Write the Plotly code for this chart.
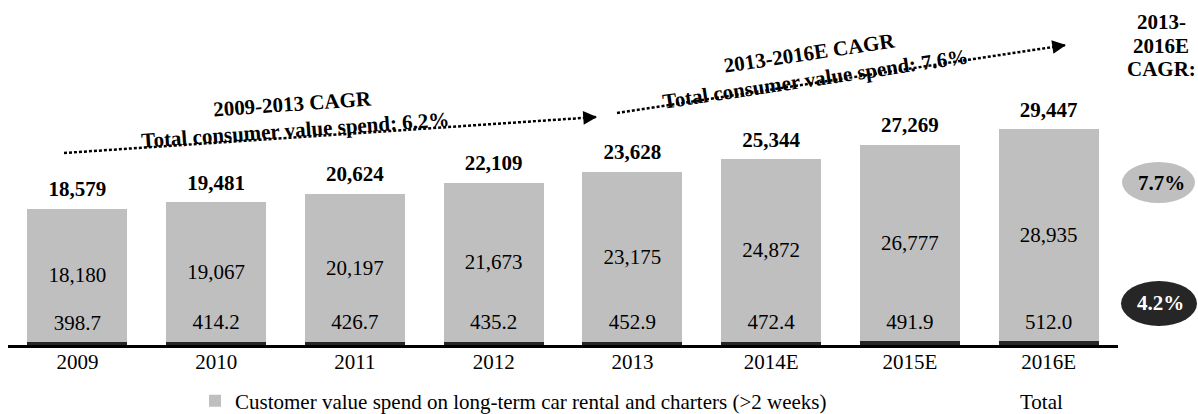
import plotly.graph_objects as go

# ---- data ----
categories = ["2009", "2010", "2011", "2012", "2013", "2014E", "2015E", "2016E"]
long_term_spend = [18180, 19067, 20197, 21673, 23175, 24872, 26777, 28935]
other_spend = [398.7, 414.2, 426.7, 435.2, 452.9, 472.4, 491.9, 512.0]
totals = [18579, 19481, 20624, 22109, 23628, 25344, 27269, 29447]
legend_long = "Customer value spend on long-term car rental and charters (>2 weeks)"
legend_total = "Total"
cagr_hist = ["2009-2013 CAGR", "Total consumer value spend: 6.2%"]
cagr_fcst = ["2013-2016E CAGR", "Total consumer value spend: 7.6%"]
side_header = ["2013-", "2016E", "CAGR:"]
side_cagr_long = "7.7%"
side_cagr_other = "4.2%"

FONT = "Liberation Serif"
GREY = "#BFBFBF"
DARK = "#262626"
W, H = 1198, 414
ML, MR, MT, MB = 8, 80, 0, 69
PW, PH = W - ML - MR, H - MT - MB


def px(x):
    return (x - ML) / PW


def py(y):
    return (H - MB - y) / PH


fig = go.Figure()
fig.add_trace(go.Bar(
    x=categories, y=other_spend, width=0.72,
    marker=dict(color=DARK, line=dict(width=0)),
    showlegend=False, name="other", hoverinfo="skip",
))
fig.add_trace(go.Bar(
    x=categories, y=long_term_spend, width=0.72,
    marker=dict(color=GREY, line=dict(width=0)),
    name=legend_long, texttemplate="%{y:,.0f}", textposition="inside",
    insidetextanchor="middle", textangle=0,
    textfont=dict(family=FONT, size=21, color="black"),
    legend="legend", hoverinfo="skip",
))
# labels of the thin bottom segment
fig.add_trace(go.Scatter(
    x=categories, y=other_spend, mode="markers+text",
    marker=dict(size=10, color="rgba(0,0,0,0)", opacity=0),
    texttemplate="%{y:.1f}",
    textposition="top center", textfont=dict(family=FONT, size=21, color="black"),
    showlegend=False, hoverinfo="skip",
))
# total labels
fig.add_trace(go.Scatter(
    x=categories, y=totals, mode="markers+text",
    marker=dict(size=10, color="rgba(0,0,0,0)", opacity=0),
    texttemplate="%{y:,.0f}",
    textposition="top center",
    textfont=dict(family=FONT, size=21, color="black", weight="bold"),
    showlegend=False, hoverinfo="skip",
))
# legend entry for Total (no visible symbol)
fig.add_trace(go.Scatter(
    x=categories, y=totals, mode="markers",
    marker=dict(size=12, color="rgba(0,0,0,0)", opacity=0, line=dict(width=0)),
    name=legend_total, legend="legend2", hoverinfo="skip",
))

shapes = []
annotations = []


def dotted_arrow(x0, y0, x1, y1):
    shapes.append(dict(type="line", xref="paper", yref="paper",
                       x0=px(x0), y0=py(y0), x1=px(x1), y1=py(y1),
                       line=dict(color="black", width=2.5, dash="3px,2px")))
    dx, dy = x1 - x0, y1 - y0
    n = (dx * dx + dy * dy) ** 0.5
    annotations.append(dict(xref="paper", yref="paper", x=px(x1), y=py(y1),
                            ax=-dx / n * 14, ay=-dy / n * 14, text="",
                            showarrow=True, arrowhead=2, arrowsize=1.1,
                            arrowwidth=2.5, arrowcolor="black"))


def label(text, x, y, angle=0, color="black", bold=True):
    annotations.append(dict(xref="paper", yref="paper", x=px(x), y=py(y),
                            text=text, showarrow=False, textangle=angle,
                            xanchor="center", yanchor="middle",
                            font=dict(family=FONT, size=21, color=color,
                                      weight="bold" if bold else "normal")))


dotted_arrow(64, 153, 597, 117)
dotted_arrow(617, 113, 1066, 45)
label(cagr_hist[0], 292, 104, -4)
label(cagr_hist[1], 295, 130, -4)
label(cagr_fcst[0], 810, 53, -8.5)
label(cagr_fcst[1], 815, 79, -8.5)
for t, yy in zip(side_header, [22, 46, 69]):
    label(t, 1161, yy)

shapes.append(dict(type="circle", xref="paper", yref="paper",
                   x0=px(1122), x1=px(1195), y0=py(203), y1=py(162),
                   fillcolor=GREY, line=dict(width=0)))
shapes.append(dict(type="circle", xref="paper", yref="paper",
                   x0=px(1121), x1=px(1197), y0=py(326), y1=py(281),
                   fillcolor=DARK, line=dict(width=0)))
label(side_cagr_long, 1161, 183)
label(side_cagr_other, 1160, 303, color="white")

fig.update_layout(
    width=W, height=H,
    margin=dict(l=ML, r=MR, t=MT, b=MB, autoexpand=False),
    barmode="stack",
    plot_bgcolor="white", paper_bgcolor="white",
    font=dict(family=FONT, size=21, color="black"),
    shapes=shapes, annotations=annotations,
    xaxis=dict(showline=True, linecolor="black", linewidth=2.5, ticks="",
               showgrid=False, zeroline=False, automargin=False,
               range=[-0.5, len(categories) - 0.5], ticklabelstandoff=-4,
               tickfont=dict(family=FONT, size=21, color="black")),
    yaxis=dict(visible=False, range=[0, PH / (216 / 29447)], showgrid=False,
               automargin=False),
    legend=dict(orientation="h", xref="container", yref="paper",
                x=195 / W, y=py(401), xanchor="left", yanchor="middle",
                font=dict(family=FONT, size=21, color="black"),
                bgcolor="rgba(0,0,0,0)"),
    legend2=dict(orientation="h", xref="container", yref="paper",
                 x=980 / W, y=py(401), xanchor="left", yanchor="middle",
                 font=dict(family=FONT, size=21, color="black"),
                 bgcolor="rgba(0,0,0,0)"),
    showlegend=True,
    hovermode=False,
)

fig.write_html(
    "out.html",
    config={"displayModeBar": False},
    post_script="document.body.style.margin='0px';document.body.style.overflow='hidden';",
)
